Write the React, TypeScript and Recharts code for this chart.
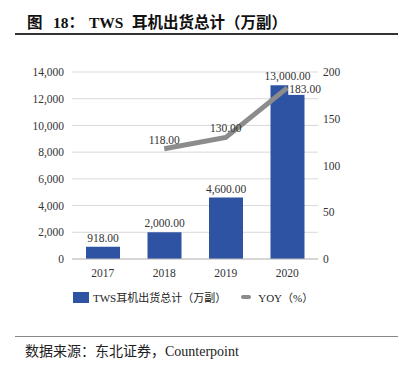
import React from 'react';
import { ComposedChart, Bar, Line, XAxis, YAxis, CartesianGrid, LabelList } from 'recharts';

const years = ['2017', '2018', '2019', '2020'];
const shipments = [918, 2000, 4600, 13000];
const yoy: (number | null)[] = [null, 118, 130, 183];
const leftTicks = [0, 2000, 4000, 6000, 8000, 10000, 12000, 14000];
const rightTicks = [0, 50, 100, 150, 200];

const data = years.map((y, i) => ({ year: y, ship: shipments[i], yoy: yoy[i] }));

const FONT = '"Liberation Serif", "Times New Roman", "Noto Sans CJK SC", serif';
const BAR_COLOR = '#2F53A3';
const LINE_COLOR = '#8C8C8C';

const fmt2 = (v: number) =>
  v.toLocaleString('en-US', { minimumFractionDigits: 2, maximumFractionDigits: 2 });

const YoyLabel = (props: any) => {
  const { x, y, value, index } = props;
  if (value == null) return null;
  const last = index === data.length - 1;
  if (last) {
    return (
      <g>
        <rect x={x + 1} y={y - 7} width={36} height={14} fill="#fff" />
        <text x={x + 2} y={y + 5} textAnchor="start" fontFamily={FONT} fontSize={11.5} fill="#333">
          {fmt2(value)}
        </text>
      </g>
    );
  }
  return (
    <text x={x} y={y - 5} textAnchor="middle" fontFamily={FONT} fontSize={11.5} fill="#333">
      {fmt2(value)}
    </text>
  );
};

const titleStyle: React.CSSProperties = {
  position: 'absolute',
  top: 13,
  fontSize: 15.5,
  fontWeight: 'bold',
  color: '#111',
  whiteSpace: 'nowrap',
  lineHeight: '20px',
};

export default function App() {
  return (
    <div style={{ position: 'absolute', left: 0, top: 0, width: 399, height: 365, background: '#fff', fontFamily: FONT }}>
      <span style={{ ...titleStyle, left: 27 }}>图</span>
      <span style={{ ...titleStyle, left: 53 }}>18：</span>
      <span style={{ ...titleStyle, left: 89 }}>TWS</span>
      <span style={{ ...titleStyle, left: 132 }}>耳机出货总计（万副）</span>
      <div style={{ position: 'absolute', left: 15, top: 33, width: 383, height: 2, background: '#333' }} />
      <ComposedChart
        width={399}
        height={365}
        data={data}
        margin={{ top: 72, right: 0, bottom: 76, left: 0 }}
        style={{ position: 'absolute', left: 0, top: 0 }}
      >
        <CartesianGrid vertical={false} stroke="#D9D9D9" yAxisId="left" />
        <XAxis
          dataKey="year"
          height={30}
          axisLine={{ stroke: '#BFBFBF' }}
          tickLine={false}
          tick={{ fontFamily: FONT, fontSize: 11.5, fill: '#333' }}
          tickMargin={4}
        />
        <YAxis
          yAxisId="left"
          orientation="left"
          width={72}
          domain={[0, 14000]}
          ticks={leftTicks}
          interval={0}
          axisLine={false}
          tickLine={false}
          tickSize={0}
          tickMargin={8}
          tickFormatter={(v: number) => v.toLocaleString('en-US')}
          tick={{ fontFamily: FONT, fontSize: 11.5, fill: '#333' }}
        />
        <YAxis
          yAxisId="right"
          orientation="right"
          width={81}
          domain={[0, 200]}
          ticks={rightTicks}
          interval={0}
          axisLine={false}
          tickLine={false}
          tickSize={0}
          tickMargin={5}
          tick={{ fontFamily: FONT, fontSize: 11.5, fill: '#333', textAnchor: 'start' }}
        />
        <Bar yAxisId="left" dataKey="ship" fill={BAR_COLOR} barSize={34} isAnimationActive={false}>
          <LabelList
            dataKey="ship"
            position="top"
            offset={5}
            formatter={(v: any) => fmt2(Number(v))}
            style={{ fontFamily: FONT, fontSize: 11.5, fill: '#333' }}
          />
        </Bar>
        <Line
          yAxisId="right"
          dataKey="yoy"
          stroke={LINE_COLOR}
          strokeWidth={5}
          dot={false}
          activeDot={false}
          connectNulls={false}
          isAnimationActive={false}
        >
          <LabelList dataKey="yoy" content={YoyLabel} />
        </Line>
      </ComposedChart>
      <div style={{ position: 'absolute', left: 73, top: 289, display: 'flex', alignItems: 'center', fontSize: 11, color: '#222', whiteSpace: 'nowrap' }}>
        <span style={{ display: 'inline-block', width: 16, height: 11, background: BAR_COLOR, marginRight: 4 }} />
        <span>TWS耳机出货总计（万副）</span>
        <span style={{ display: 'inline-block', width: 10, height: 4, borderRadius: 2, background: LINE_COLOR, marginLeft: 15, marginRight: 7 }} />
        <span>YOY（%）</span>
      </div>
      <div style={{ position: 'absolute', left: 15, top: 336, width: 383, height: 1, background: '#888' }} />
      <div style={{ position: 'absolute', left: 25, top: 343, fontSize: 14, color: '#222', whiteSpace: 'nowrap', lineHeight: '18px' }}>
        数据来源：东北证券，Counterpoint
      </div>
    </div>
  );
}
